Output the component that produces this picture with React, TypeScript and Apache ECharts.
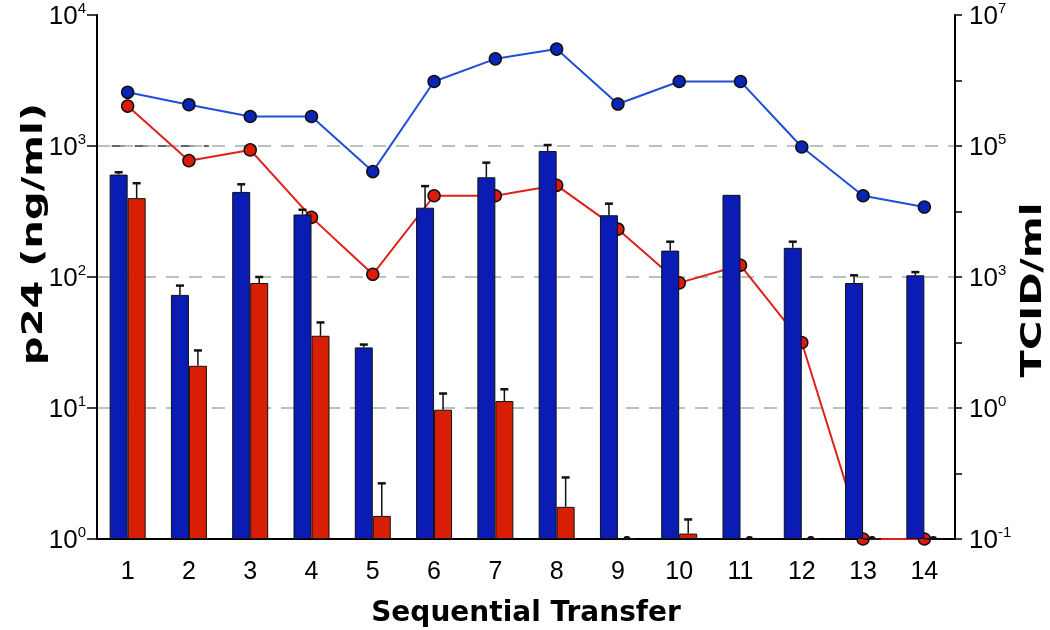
import React, { useEffect, useRef } from "react";
import * as echarts from "echarts";

const categories = ["1", "2", "3", "4", "5", "6", "7", "8", "9", "10", "11", "12", "13", "14"];
// p24 (ng/ml), left axis
const p24Blue = [605, 73, 446, 300, 29, 338, 577, 915, 296, 159, 424, 167, 90, 103];
const p24BlueErr = [630, 86, 510, 326, 30.5, 494, 746, 1017, 363, 186, null, 186, 103, 109];
const p24Red = [400, 21, 90, 35.6, 1.5, 9.7, 11.3, 1.76, 1, 1.1, 1, 1, 1, 1];
const p24RedErr = [520, 27.5, 100, 45, 2.66, 12.9, 13.9, 2.95, 1, 1.41, 1, 1, 1, 1];
// TCID/ml, right axis
const tcidBlue = [660000, 427000, 282000, 282000, 40700, 966000, 2140000, 3020000, 437000, 966000, 966000, 96600, 17400, 11700];
const tcidRed = [407000, 59700, 87100, 8130, 1100, 17400, 17400, 25100, 5370, 813, 1510, 100, 0.1, 0.1];
const leftTickExp = [0, 1, 2, 3, 4];
const rightTickLabels: Record<string, string> = { "7": "7", "5": "5", "3": "3", "1": "0", "-1": "-1" };
const leftTitle = "p24 (ng/ml)";
const rightTitle = "TCID/ml";
const xTitle = "Sequential Transfer";

const BAR_W = 18;
const BLUE_BAR = "#0a1cb4";
const RED_BAR = "#d81e05";

export default function App() {
  const ref = useRef<HTMLDivElement>(null);
  useEffect(() => {
    if (!ref.current) return;
    const chart = echarts.init(ref.current, null, { renderer: "svg" });
    const errRows: any[] = [];
    p24Blue.forEach((v, i) => {
      if (p24BlueErr[i] != null) errRows.push([i, v, p24BlueErr[i], -1]);
    });
    p24Red.forEach((v, i) => {
      if (p24RedErr[i] != null) errRows.push([i, v, p24RedErr[i], 1]);
    });
    const labelRich = {
      b: { fontSize: 26, fontFamily: "Liberation Sans", color: "#000", lineHeight: 30 },
      s: { fontSize: 15, fontFamily: "Liberation Sans", color: "#000", lineHeight: 30, verticalAlign: "top" },
    };
    const titleStyle = { fontSize: 29, fontWeight: "bold", fontFamily: "DejaVu Sans", fill: "#000", align: "center", verticalAlign: "middle" };
    const option: any = {
      animation: false,
      grid: { left: 97, right: 95, top: 9, bottom: 85 },
      xAxis: {
        type: "category",
        data: categories,
        axisLine: { lineStyle: { color: "#000", width: 2 } },
        axisTick: { show: false },
        axisLabel: { fontSize: 25, color: "#000", fontFamily: "Liberation Sans", margin: 18 },
        name: xTitle,
        nameLocation: "middle",
        nameGap: 58,
        nameTextStyle: { fontFamily: "DejaVu Sans", fontWeight: "bold", fontSize: 28, color: "#000" },
      },
      yAxis: [
        {
          type: "log",
          logBase: 10,
          min: 1,
          max: 10000,
          interval: 1,
          axisLine: { show: true, lineStyle: { color: "#000", width: 2 } },
          axisTick: { show: true, length: 10, lineStyle: { color: "#000", width: 1.5 } },
          axisLabel: {
            margin: 11,
            formatter: (v: number) => {
              const e = Math.round(Math.log10(v));
              return leftTickExp.includes(e) ? `{b|10}{s|${e}}` : "";
            },
            rich: labelRich,
          },
          splitLine: {
            show: true,
            showMinLine: false,
            showMaxLine: false,
            lineStyle: { color: "#9db3a6", width: 1.5, type: [13, 10] },
          },
        },
        {
          type: "log",
          logBase: 10,
          min: 0.1,
          max: 10000000,
          interval: 1,
          position: "right",
          axisLine: { show: true, lineStyle: { color: "#000", width: 2 } },
          axisTick: { show: true, length: 7, lineStyle: { color: "#000", width: 1.5 } },
          axisLabel: {
            margin: 14,
            interval: 0,
            formatter: (v: number) => {
              const e = String(Math.round(Math.log10(v)));
              return rightTickLabels[e] != null ? `{b|10}{s|${rightTickLabels[e]}}` : "";
            },
            rich: labelRich,
          },
          splitLine: { show: false },
        },
      ],
      graphic: [
        {
          id: "ltitle",
          type: "text",
          x: 32,
          y: 234,
          rotation: Math.PI / 2,
          scaleX: 1.38,
          style: { text: leftTitle, ...titleStyle },
        },
        {
          id: "rtitle",
          type: "text",
          x: 1031,
          y: 290,
          rotation: Math.PI / 2,
          scaleX: 1.38,
          style: { text: rightTitle, ...titleStyle },
        },
      ],
      series: [
        {
          type: "line",
          yAxisIndex: 1,
          data: tcidBlue,
          z: 1,
          symbol: "circle",
          symbolSize: 12,
          lineStyle: { color: "#1f4fd6", width: 2 },
          itemStyle: { color: "#0a24b8", borderColor: "#111", borderWidth: 1.5 },
        },
        {
          type: "line",
          yAxisIndex: 1,
          data: tcidRed,
          z: 1,
          symbol: "circle",
          symbolSize: 12,
          lineStyle: { color: "#e0201a", width: 2 },
          itemStyle: { color: "#e01a0a", borderColor: "#111", borderWidth: 1.5 },
        },
        {
          type: "bar",
          yAxisIndex: 0,
          data: p24Blue,
          barWidth: BAR_W,
          barGap: "0%",
          z: 2,
          itemStyle: { color: BLUE_BAR, borderColor: "#111", borderWidth: 1 },
        },
        {
          type: "bar",
          yAxisIndex: 0,
          data: p24Red,
          barWidth: BAR_W,
          barGap: "0%",
          z: 2,
          itemStyle: { color: RED_BAR, borderColor: "#111", borderWidth: 1 },
        },
        {
          type: "custom",
          yAxisIndex: 0,
          z: 3,
          data: errRows,
          encode: { x: 0, y: [1, 2] },
          renderItem: (params: any, api: any) => {
            const idx = api.value(0);
            const v = api.value(1);
            const e = api.value(2);
            const side = api.value(3);
            const base = api.coord([idx, v]);
            const top = api.coord([idx, e]);
            const x = base[0] + (side * BAR_W) / 2;
            if (e > v) {
              return {
                type: "group",
                children: [
                  { type: "line", shape: { x1: x, y1: base[1], x2: x, y2: top[1] }, style: { stroke: "#111", lineWidth: 1.5 } },
                  { type: "line", shape: { x1: x - 4, y1: top[1], x2: x + 4, y2: top[1] }, style: { stroke: "#111", lineWidth: 2.5 } },
                ],
              };
            }
            return {
              type: "rect",
              shape: { x: x - 3.5, y: base[1] - 3, width: 7, height: 3, r: [3, 3, 0, 0] },
              style: { fill: "#111" },
            };
          },
        },
      ],
    };
    chart.setOption(option);
    const y = chart.convertToPixel({ yAxisIndex: 0 }, 1000) as number;
    const xa = (chart.convertToPixel({ xAxisIndex: 0 }, categories[0]) as number) - 16;
    const xb = (chart.convertToPixel({ xAxisIndex: 0 }, categories[1]) as number) + 20;
    chart.setOption({
      graphic: [
        {
          id: "dash1000",
          type: "line",
          shape: { x1: xa, y1: y, x2: xb, y2: y },
          style: { stroke: "#333", lineWidth: 1.5, lineDash: [13, 10] },
          z: 0,
        },
      ],
    });
    return () => chart.dispose();
  }, []);
  return <div ref={ref} style={{ position: "fixed", left: 0, top: 0, width: 1050, height: 630 }} />;
}
